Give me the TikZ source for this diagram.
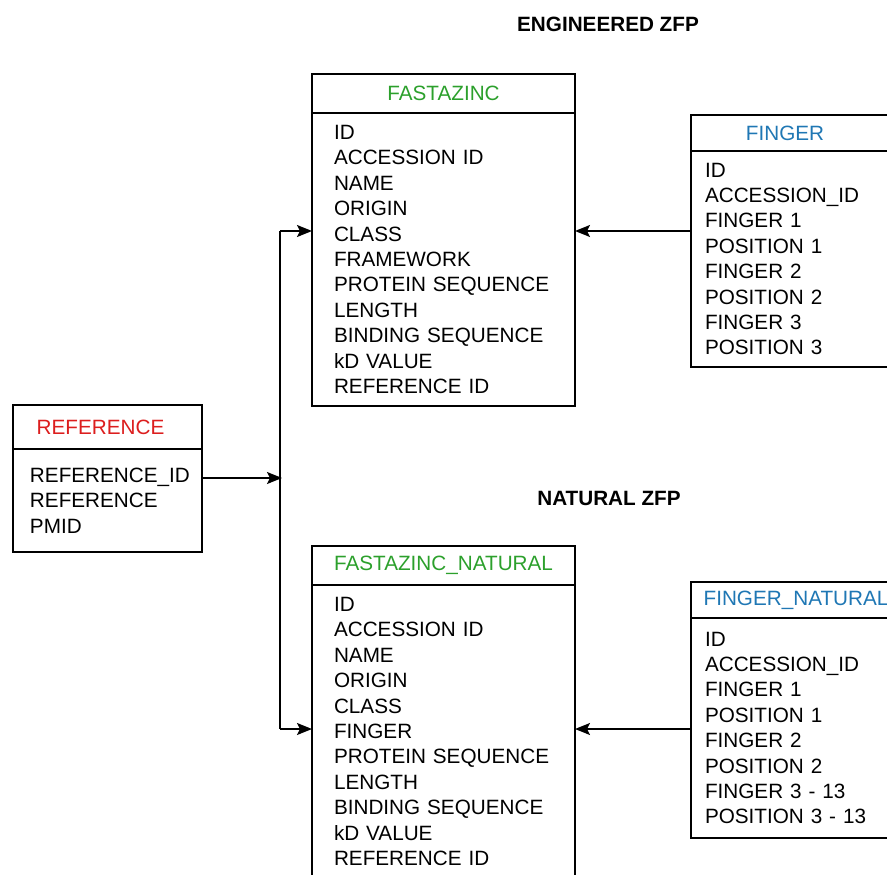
\documentclass[tikz,border=0pt]{standalone}
\usepackage{fontspec}
\setmainfont{Liberation Sans}
\usetikzlibrary{positioning,arrows.meta}
\definecolor{tabgreen}{RGB}{44,160,44}
\definecolor{tabblue}{RGB}{31,119,180}
\definecolor{tabred}{RGB}{220,30,30}

\begin{document}
\begin{tikzpicture}[x=1pt,y=-1pt,
    tabhead/.style={draw,line width=1.6pt,outer sep=0pt,inner sep=0pt,anchor=north west,
      font=\fontsize{20.7}{24}\selectfont},
    tabbody/.style={draw,line width=1.6pt,outer sep=0pt,inner ysep=0pt,align=left,
      font=\fontsize{20.7}{25.4}\selectfont},
    headlabel/.style={font=\fontsize{20.7}{24}\selectfont},
    title/.style={font=\fontsize{20.7}{24}\selectfont\bfseries},
    link/.style={line width=1.6pt,-{Stealth[length=15pt,width=12pt,inset=3pt]}}]
    \useasboundingbox (0,0) rectangle (887,875);
    \clip (0,0) rectangle (887,875);

    % titles
    \node[title] (engtitle) at (608,24) {ENGINEERED ZFP};
    \node[title] (nattitle) at (609,498) {NATURAL ZFP};

    % engineered tables
    \node[tabhead,minimum width=263pt,minimum height=39pt,text=tabgreen] (fz) at (312,74) {FASTAZINC};
    \node[tabbody,below=0pt of fz,minimum height=293pt,inner xsep=22pt,text width=219pt] (fzbody)
      {ID\\ACCESSION ID\\NAME\\ORIGIN\\CLASS\\FRAMEWORK\\PROTEIN SEQUENCE\\LENGTH\\BINDING SEQUENCE\\kD VALUE\\REFERENCE ID};

    \node[tabhead,minimum width=210pt,minimum height=36pt,
      label={[headlabel,text=tabblue,xshift=-11pt]center:FINGER}] (fg) at (691,115) {};
    \node[tabbody,below=0pt of fg,minimum height=216pt,inner xsep=14pt,text width=182pt] (fgbody)
      {ID\\ACCESSION\_ID\\FINGER 1\\POSITION 1\\FINGER 2\\POSITION 2\\FINGER 3\\POSITION 3};

    % reference table
    \node[tabhead,minimum width=189pt,minimum height=44pt,
      label={[headlabel,text=tabred,xshift=-7pt]center:REFERENCE}] (ref) at (13,405) {};
    \node[tabbody,below=0pt of ref,minimum height=103pt,inner xsep=17pt,text width=155pt] (refbody)
      {REFERENCE\_ID\\REFERENCE\\PMID};

    % natural tables
    \node[tabhead,minimum width=263pt,minimum height=39pt,text=tabgreen] (fzn) at (312,546) {FASTAZINC\_NATURAL};
    \node[tabbody,below=0pt of fzn,minimum height=293pt,inner xsep=22pt,text width=219pt] (fznbody)
      {ID\\ACCESSION ID\\NAME\\ORIGIN\\CLASS\\FINGER\\PROTEIN SEQUENCE\\LENGTH\\BINDING SEQUENCE\\kD VALUE\\REFERENCE ID};

    \node[tabhead,minimum width=210pt,minimum height=36pt,text=tabblue] (fgn) at (691,582) {FINGER\_NATURAL};
    \node[tabbody,below=0pt of fgn,minimum height=220pt,inner xsep=14pt,text width=182pt] (fgnbody)
      {ID\\ACCESSION\_ID\\FINGER 1\\POSITION 1\\FINGER 2\\POSITION 2\\FINGER 3 - 13\\POSITION 3 - 13};

    % links
    \coordinate (trunktop) at (280,231);
    \coordinate (trunkmid) at (282,478);
    \coordinate (trunkbot) at (280,729);
    \draw[line width=1.6pt] (trunktop) -- (trunkbot);
    \draw[link] (trunktop) -- (fzbody.west |- trunktop);
    \draw[link] (trunkbot) -- (fznbody.west |- trunkbot);
    \draw[link] (refbody.east |- trunkmid) -- (trunkmid);
    \draw[link] (fgbody.west |- trunktop) -- (fzbody.east |- trunktop);
    \draw[link] (fgnbody.west |- trunkbot) -- (fznbody.east |- trunkbot);
\end{tikzpicture}
\end{document}
